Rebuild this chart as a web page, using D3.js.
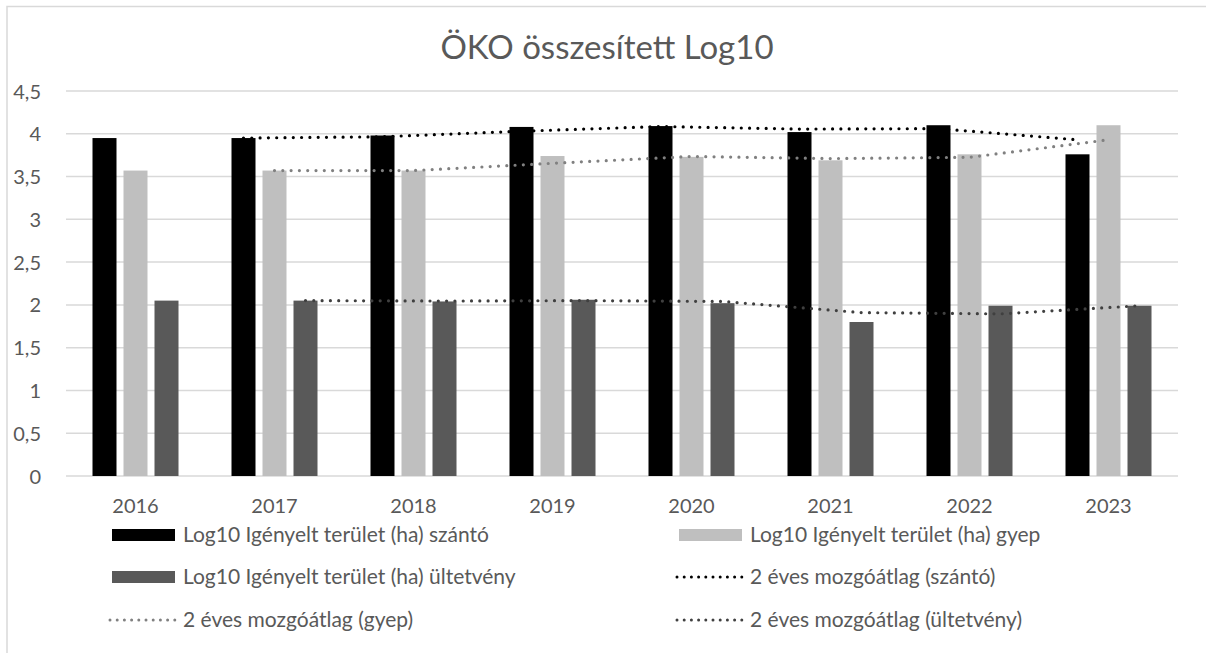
<!DOCTYPE html>
<html>
<head>
<meta charset="utf-8">
<script src="https://cdn.jsdelivr.net/npm/d3@7"></script>
<style>
  body { margin: 0; background: #fff; }
  text { font-family: Lato, "Open Sans", sans-serif; fill: #595959; }
</style>
</head>
<body>
<div class="chart"></div>
<script>
var years = ['2016', '2017', '2018', '2019', '2020', '2021', '2022', '2023'];
var szanto = [3.95, 3.95, 3.98, 4.08, 4.09, 4.02, 4.10, 3.76];
var gyep = [3.57, 3.57, 3.57, 3.74, 3.73, 3.69, 3.76, 4.10];
var ultetveny = [2.05, 2.05, 2.04, 2.06, 2.02, 1.80, 1.99, 1.99];
// 2 eves mozgoatlag, 2017-tol
var maSzanto = [3.95, 3.965, 4.03, 4.085, 4.055, 4.06, 3.93];
var maGyep = [3.57, 3.57, 3.655, 3.735, 3.71, 3.725, 3.93];
var maUltetveny = [2.05, 2.045, 2.05, 2.04, 1.91, 1.895, 1.99];
var yTicks = [0, 0.5, 1, 1.5, 2, 2.5, 3, 3.5, 4, 4.5];

var barNames = ['Log10 Igényelt terület (ha) szántó', 'Log10 Igényelt terület (ha) gyep', 'Log10 Igényelt terület (ha) ültetvény'];
var barColors = ['#000000', '#bfbfbf', '#595959'];
var maNames = ['2 éves mozgóátlag (szántó)', '2 éves mozgóátlag (gyep)', '2 éves mozgóátlag (ültetvény)'];
var maColors = ['#000000', '#808080', '#404040'];

var W = 1206, H = 653;
var svg = d3.select('.chart').append('svg').attr('width', W).attr('height', H);

// chart frame, only top and left edge visible
svg.append('path')
  .attr('d', 'M7,' + H + 'V6.5H' + W)
  .attr('fill', 'none').attr('stroke', '#d9d9d9').attr('stroke-width', 1.5);

svg.append('text')
  .attr('x', 607).attr('y', 59)
  .attr('text-anchor', 'middle')
  .style('font-size', '33px')
  .text('ÖKO összesített Log10');

var x0 = d3.scaleBand().domain(years).range([66, 1178]);
var x1 = d3.scaleBand().domain([0, 1, 2]).range([26.5, 112.5]).paddingInner(0.226);
var y = d3.scaleLinear().domain([0, 4.5]).range([476, 91]);

// grid
svg.append('g').selectAll('line').data(yTicks).enter().append('line')
  .attr('x1', 66).attr('x2', 1178)
  .attr('y1', d => y(d)).attr('y2', d => y(d))
  .attr('stroke', '#d9d9d9').attr('stroke-width', 1.5);

var yAxis = svg.append('g')
  .attr('transform', 'translate(44,0)')
  .call(d3.axisLeft(y).tickValues(yTicks).tickSize(0).tickFormat(d => String(d).replace('.', ',')));
yAxis.select('.domain').remove();
yAxis.selectAll('text').style('font-size', '20px').attr('dy', '0.35em');

var xAxis = svg.append('g')
  .attr('transform', 'translate(0,476)')
  .call(d3.axisBottom(x0).tickSize(0).tickPadding(23));
xAxis.select('.domain').remove();
xAxis.selectAll('text').style('font-size', '20px');

// bars
var series = [szanto, gyep, ultetveny];
series.forEach(function(vals, i) {
  svg.append('g').selectAll('rect').data(vals).enter().append('rect')
    .attr('x', (d, j) => x0(years[j]) + x1(i))
    .attr('width', x1.bandwidth())
    .attr('y', d => y(d))
    .attr('height', d => y(0) - y(d))
    .attr('fill', barColors[i]);
});

// moving averages
var line = d3.line();
[maSzanto, maGyep, maUltetveny].forEach(function(vals, i) {
  var pts = vals.map((d, j) => [x0(years[j + 1]) + x1(i) + x1.bandwidth() / 2, y(d)]);
  svg.append('path')
    .attr('d', line(pts))
    .attr('fill', 'none')
    .attr('stroke', maColors[i])
    .attr('stroke-width', 3.2)
    .attr('stroke-linecap', 'round')
    .attr('stroke-dasharray', '0 8.3');
});

// legend
var legendItems = [
  { name: barNames[0], type: 'bar', color: barColors[0] },
  { name: barNames[1], type: 'bar', color: barColors[1] },
  { name: barNames[2], type: 'bar', color: barColors[2] },
  { name: maNames[0], type: 'line', color: maColors[0] },
  { name: maNames[1], type: 'line', color: maColors[1] },
  { name: maNames[2], type: 'line', color: maColors[2] }
];
var colX = [112, 679];
var rowY = [535, 577, 620];
var leg = svg.append('g').selectAll('g').data(legendItems).enter().append('g')
  .attr('transform', (d, i) => 'translate(' + colX[i % 2] + ',' + rowY[Math.floor(i / 2)] + ')');
leg.filter(d => d.type === 'bar').append('rect')
  .attr('x', 0).attr('y', -6).attr('width', 63).attr('height', 12)
  .attr('fill', d => d.color);
leg.filter(d => d.type === 'line').append('line')
  .attr('x1', -2).attr('x2', 63).attr('y1', 0).attr('y2', 0)
  .attr('stroke', d => d.color).attr('stroke-width', 3)
  .attr('stroke-linecap', 'round').attr('stroke-dasharray', '0 7.2');
leg.append('text')
  .attr('x', 71).attr('dy', '0.35em')
  .style('font-size', '21px')
  .text(d => d.name);
</script>
</body>
</html>
